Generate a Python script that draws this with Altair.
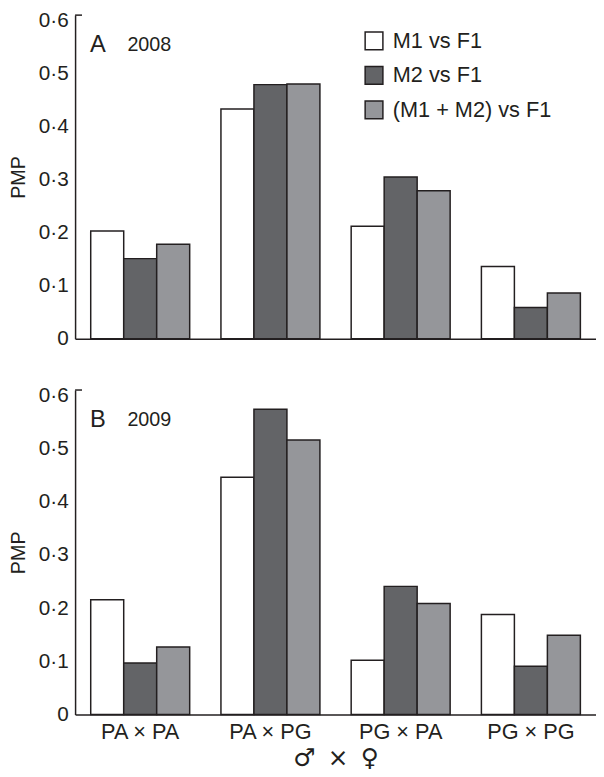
import altair as alt
import pandas as pd

FONT = "Liberation Sans"
INK = "#231f20"

CROSSES = ["PA × PA", "PA × PG", "PG × PA", "PG × PG"]
SERIES = ["M1 vs F1", "M2 vs F1", "(M1 + M2) vs F1"]
COLORS = ["#ffffff", "#636467", "#95969a"]
Y_TICKS = [0, 0.1, 0.2, 0.3, 0.4, 0.5, 0.6]

# 2008 (panel A)
M1_2008 = [0.203, 0.433, 0.212, 0.136]
M2_2008 = [0.151, 0.479, 0.305, 0.059]
M12_2008 = [0.178, 0.480, 0.279, 0.086]
# 2009 (panel B)
M1_2009 = [0.216, 0.446, 0.102, 0.188]
M2_2009 = [0.097, 0.574, 0.241, 0.091]
M12_2009 = [0.127, 0.516, 0.209, 0.149]

DATA = {
    "2008": [M1_2008, M2_2008, M12_2008],
    "2009": [M1_2009, M2_2009, M12_2009],
}

rows = []
for year, series_vals in DATA.items():
    for s, vals in zip(SERIES, series_vals):
        for c, v in zip(CROSSES, vals):
            rows.append({"year": year, "series": s, "cross": c, "pmp": v})
df = pd.DataFrame(rows)

label_expr = "datum.value == 0 ? '0' : replace(format(datum.value, '.1f'), '.', '·')"


def panel(letter, year, bottom, height):
    d = df[df["year"] == year]
    if bottom:
        xaxis = alt.Axis(labels=True, title="♂\u2002×\u2002♀", ticks=False, labelAngle=0,
                         labelFontSize=22, labelPadding=7, labelFont=FONT, labelColor=INK,
                         titleFontSize=25, titleFontWeight="normal", titlePadding=4,
                         titleFont="DejaVu Sans", titleColor=INK,
                         domainColor=INK, domainWidth=1.5, grid=False)
        legend = None
    else:
        xaxis = alt.Axis(labels=False, title=None, ticks=False,
                         domainColor=INK, domainWidth=1.5, grid=False)
        legend = alt.Legend(orient="none", legendX=292, legendY=15, title=None,
                            symbolType="square", symbolSize=324,
                            symbolStrokeColor=INK, symbolStrokeWidth=1.5,
                            labelFontSize=22, labelFont=FONT, labelColor=INK,
                            labelLimit=400, labelOffset=8, rowPadding=11, padding=0)
    bars = alt.Chart(d).mark_bar(stroke=INK, strokeWidth=1.5).encode(
        x=alt.X("cross:N", sort=CROSSES,
                scale=alt.Scale(paddingInner=0.24, paddingOuter=0.12), axis=xaxis),
        xOffset=alt.XOffset("series:N", sort=SERIES),
        y=alt.Y("pmp:Q", scale=alt.Scale(domain=[0, 0.61], nice=False),
                axis=alt.Axis(values=Y_TICKS, labelExpr=label_expr, title="PMP",
                              ticks=False, labelPadding=7, labelFontSize=21,
                              labelFont=FONT, labelColor=INK,
                              titleFontSize=20, titleFontWeight="normal",
                              titleFont=FONT, titleColor=INK, titlePadding=10,
                              domainColor=INK, domainWidth=1.5, grid=False)),
        fill=alt.Fill("series:N", sort=SERIES,
                      scale=alt.Scale(domain=SERIES, range=COLORS), legend=legend),
    )
    lab = pd.DataFrame({"letter": [letter], "year": [year]})
    letter_txt = alt.Chart(lab).mark_text(align="left", baseline="alphabetic",
                                          fontSize=24, font=FONT, color=INK).encode(
        x=alt.value(15), y=alt.value(37), text="letter:N")
    year_txt = alt.Chart(lab).mark_text(align="left", baseline="alphabetic",
                                        fontSize=20, font=FONT, color=INK).encode(
        x=alt.value(53), y=alt.value(36), text="year:N")
    cap = alt.Chart(lab).mark_rule(color=INK, strokeWidth=1.5).encode(
        x=alt.value(0), x2=alt.value(7), y=alt.value(0))
    return alt.layer(bars, letter_txt, year_txt, cap).properties(width=528, height=height)


chart = alt.vconcat(
    panel("A", "2008", False, 328),
    panel("B", "2009", True, 329),
    spacing=36,
    padding={"left": 0, "top": -4, "right": 0, "bottom": 0},
).resolve_legend(color="independent").configure_view(stroke=None)

chart.save("out.html", embed_options={"renderer": "svg", "actions": False})
